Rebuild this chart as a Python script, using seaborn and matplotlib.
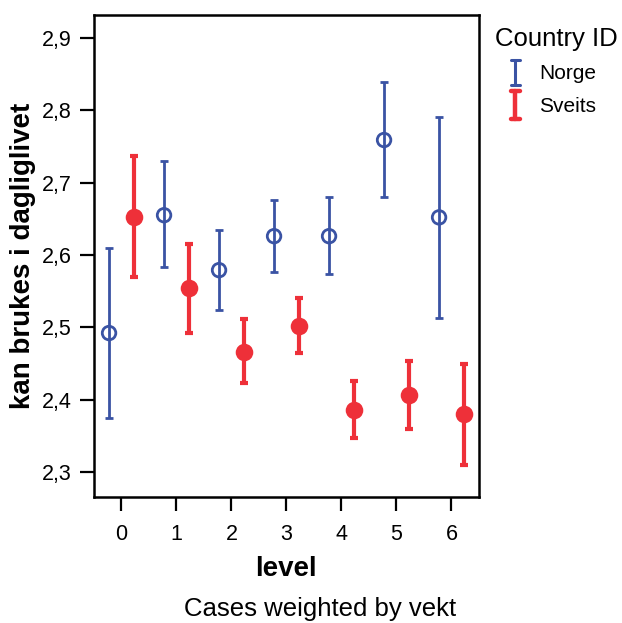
import numpy as np
import matplotlib
matplotlib.use("Agg")
import matplotlib.pyplot as plt
import seaborn as sns
from matplotlib.legend_handler import HandlerBase
from matplotlib.lines import Line2D

# Data (means with error bar ends)
levels = [0, 1, 2, 3, 4, 5, 6]
norge_mean = [2.492, 2.655, 2.579, 2.626, 2.626, 2.759, 2.652]
norge_low = [2.375, 2.583, 2.524, 2.576, 2.574, 2.680, 2.513]
norge_high = [2.610, 2.730, 2.635, 2.676, 2.680, 2.839, 2.791]
sveits_mean = [2.653, 2.554, 2.466, 2.502, 2.386, 2.406, 2.380]
sveits_low = [2.570, 2.492, 2.423, 2.464, 2.347, 2.359, 2.310]
sveits_high = [2.737, 2.615, 2.511, 2.540, 2.426, 2.453, 2.449]
y_ticks = [2.3, 2.4, 2.5, 2.6, 2.7, 2.8, 2.9]
y_tick_labels = ["2,3", "2,4", "2,5", "2,6", "2,7", "2,8", "2,9"]

BLUE = "#3a53a4"
RED = "#ee3039"

sns.set_theme(style="ticks")
plt.rcParams["font.family"] = ["Liberation Sans", "DejaVu Sans"]
plt.rcParams["text.color"] = "black"
plt.rcParams["axes.labelcolor"] = "black"

fig = plt.figure(figsize=(6.22, 6.23), dpi=100)
ax = fig.add_axes([0.151, 0.202, 0.619, 0.774])

x = np.array(levels, dtype=float)
norge_mean = np.array(norge_mean)
sveits_mean = np.array(sveits_mean)

# Norge: thin bars, open circles
ax.errorbar(x - 0.225, norge_mean,
            yerr=[norge_mean - np.array(norge_low), np.array(norge_high) - norge_mean],
            fmt="none", ecolor=BLUE, elinewidth=2, capsize=3, capthick=2, zorder=2)
sns.scatterplot(x=x - 0.225, y=norge_mean, ax=ax, marker="o", s=95,
                facecolors="none", edgecolor=BLUE, linewidth=2, legend=False, zorder=3)

# Sveits: thicker bars, filled circles
ax.errorbar(x + 0.225, sveits_mean,
            yerr=[sveits_mean - np.array(sveits_low), np.array(sveits_high) - sveits_mean],
            fmt="none", ecolor=RED, elinewidth=3, capsize=3, capthick=3, zorder=2)
sns.scatterplot(x=x + 0.225, y=sveits_mean, ax=ax, marker="o", s=160,
                color=RED, edgecolor=RED, linewidth=0, legend=False, zorder=3)

ax.set_xlim(-0.5, 6.5)
ax.set_ylim(2.265, 2.932)
ax.set_xticks(levels)
ax.set_xticklabels([str(v) for v in levels])
ax.set_yticks(y_ticks)
ax.set_yticklabels(y_tick_labels)
ax.tick_params(axis="both", direction="out", length=10, width=1.6,
               labelsize=15.5, color="black", labelcolor="black", pad=6)
ax.tick_params(axis="x", pad=9)
for sp in ax.spines.values():
    sp.set_visible(True)
    sp.set_color("black")
    sp.set_linewidth(1.8)

ax.set_xlabel("level", fontsize=20, fontweight="bold", labelpad=8)
ax.set_ylabel("kan brukes i dagliglivet", fontsize=20, fontweight="bold", labelpad=4)
fig.text(0.515, 0.022, "Cases weighted by vekt", ha="center", va="center", fontsize=18.5)


class ErrbarHandler(HandlerBase):
    def __init__(self, lw, half):
        super().__init__()
        self.lw = lw
        self.half = half

    def create_artists(self, legend, orig, xdescent, ydescent, width, height, fontsize, trans):
        c = orig.get_color()
        cx = width / 2 - xdescent
        cy = height / 2 - ydescent
        y0, y1 = cy - self.half, cy + self.half
        hw = 3.5
        arts = [Line2D([cx, cx], [y0, y1], color=c, lw=self.lw),
                Line2D([cx - hw, cx + hw], [y0, y0], color=c, lw=self.lw),
                Line2D([cx - hw, cx + hw], [y1, y1], color=c, lw=self.lw)]
        for a in arts:
            a.set_transform(trans)
        return arts


h_norge = Line2D([], [], color=BLUE)
h_sveits = Line2D([], [], color=RED)
leg = fig.legend([h_norge, h_sveits], ["Norge", "Sveits"], title="Country ID",
                 loc="upper left", bbox_to_anchor=(0.765, 0.987), frameon=False,
                 fontsize=15, title_fontsize=18.5, handlelength=2.0, handletextpad=0.15,
                 labelspacing=0.65, alignment="left",
                 handler_map={h_norge: ErrbarHandler(2.2, 9), h_sveits: ErrbarHandler(3.2, 10)})

fig.savefig("out.png", dpi=100)
